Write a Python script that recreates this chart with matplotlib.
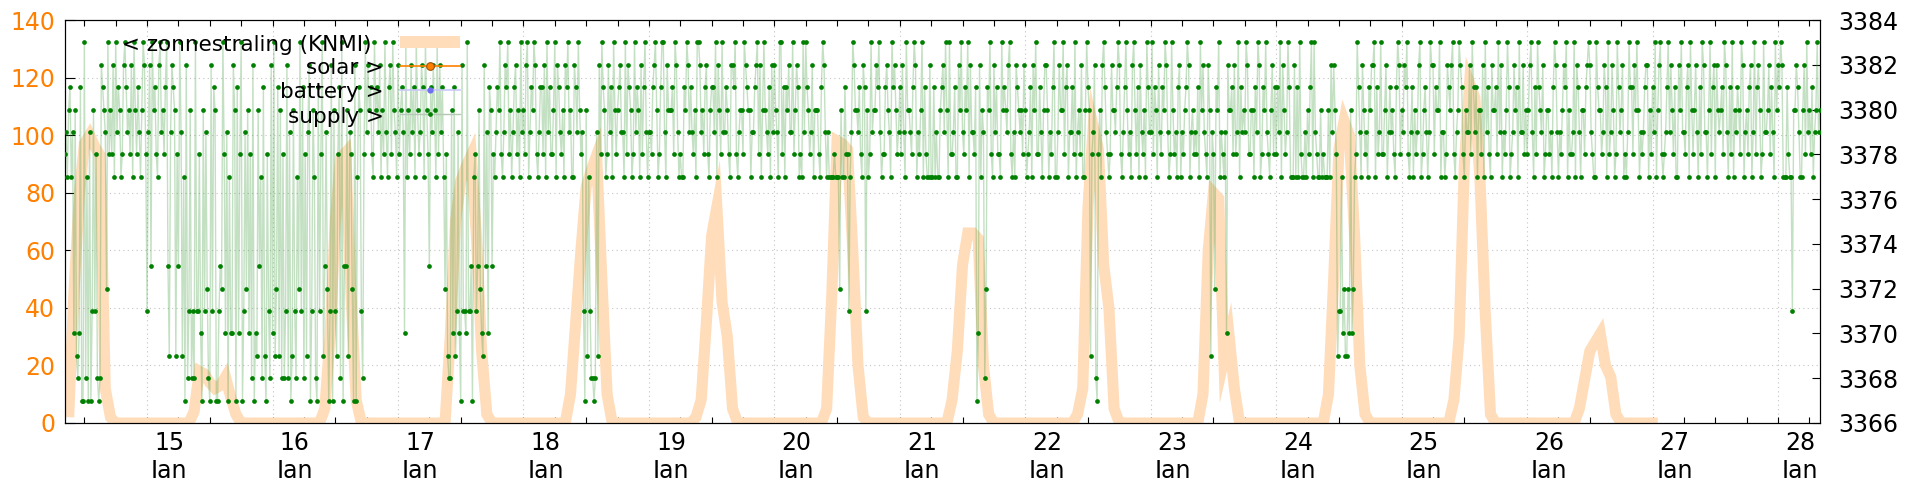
"""Zonnestraling (KNMI) vs meter readings, gnuplot-style two-axis chart."""

import os

os.environ.setdefault("MPLBACKEND", "Agg")

import matplotlib.pyplot as plt  # noqa: E402
import matplotlib.dates as mdates  # noqa: E402
import matplotlib.transforms as mtransforms  # noqa: E402
import pandas as pd  # noqa: E402

# KNMI hourly radiation (left axis), one row per day
KNMI_FIRST_HOUR = "2021-01-14 09:00"
knmi_radiation = [
    # 14 Jan, from 09:00
    2, 45, 78, 97, 100, 96, 93, 12, 2, 0, 0, 0, 0, 0, 0,
    # 15 Jan
    0, 0, 0, 0, 0, 0, 0, 0, 0, 4, 18, 17, 14, 12, 13, 16, 9, 3, 0, 0, 0, 0, 0, 0,
    # 16 Jan
    0, 0, 0, 0, 0, 0, 0, 0, 0, 0, 5, 30, 70, 92, 94, 45, 8, 0, 0, 0, 0, 0, 0, 0,
    # 17 Jan
    0, 0, 0, 0, 0, 0, 0, 0, 0, 0, 30, 70, 84, 89, 93, 65, 25, 3, 0, 0, 0, 0, 0, 0,
    # 18 Jan
    0, 0, 0, 0, 0, 0, 0, 0, 0, 10, 35, 60, 82, 88, 93, 50, 10, 0, 0, 0, 0, 0, 0, 0,
    # 19 Jan
    0, 0, 0, 0, 0, 0, 0, 0, 0, 2, 8, 35, 65, 75, 42, 30, 5, 0, 0, 0, 0, 0, 0, 0,
    # 20 Jan
    0, 0, 0, 0, 0, 0, 0, 0, 0, 0, 5, 45, 98, 97, 95, 60, 20, 2, 0, 0, 0, 0, 0, 0,
    # 21 Jan
    0, 0, 0, 0, 0, 0, 0, 0, 0, 0, 8, 25, 55, 66, 66, 64, 20, 3, 0, 0, 0, 0, 0, 0,
    # 22 Jan
    0, 0, 0, 0, 0, 0, 0, 0, 0, 0, 3, 12, 75, 103, 95, 55, 40, 5, 0, 0, 0, 0, 0, 0,
    # 23 Jan
    0, 0, 0, 0, 0, 0, 0, 0, 0, 0, 10, 60, 80, 78, 22, 30, 12, 0, 0, 0, 0, 0, 0, 0,
    # 24 Jan
    0, 0, 0, 0, 0, 0, 0, 0, 0, 0, 10, 50, 95, 105, 100, 65, 20, 3, 0, 0, 0, 0, 0, 0,
    # 25 Jan
    0, 0, 0, 0, 0, 0, 0, 0, 0, 0, 8, 30, 90, 118, 113, 84, 38, 3, 0, 0, 0, 0, 0, 0,
    # 26 Jan
    0, 0, 0, 0, 0, 0, 0, 0, 0, 0, 5, 15, 25, 28, 31, 20, 16, 3, 0, 0, 0, 0, 0, 0,
    # 27 Jan
    0, 0,
]

# supply readings every 15 minutes (right axis); one char per reading,
# index in SUPPLY_LEVELS = offset above 3366, one group of four per hour
SUPPLY_FIRST = "2021-01-14 08:15"
SUPPLY_BASE = 3366
SUPPLY_LEVELS = "0123456789abcdefgh"
supply_days = [
    # 14 Jan, from 08:15
    "cdb efbd 4e32 4f11 h2b1 d15e 5c21 2gfe d6hc ecgb hdfe bcgh fdec gbhe cfdb ehgc",
    "5dg7 hefc bghd ecfh 73dg fe3c 7hd3 b1g2 5e25 2h55 c41e 5d62 "
    "1g5f e115 76hc 4d1b 44ge 1f4c h15d 6e4c 2g14 3e7b 2f31 c52g",
    "4h36 f3e2 c25g 2d13 e52b 6h5f 2c3d g15e b21f 5ch3 7d61 5g1e "
    "53cf 2h17 7e3d c61g 1bfe 52ch dgef cbhe fdgb echd bfgc hedb",
    "gcef d4hb ecgd fbhe cdgf bhec 7fdg ebhc gdfb 6c32 2e4f 35d4 "
    "1g55 4h55 71bc 57e6 43g7 d4fe 7cbd fehc bdgf hceb dfgc ebhd",
    "ecgh bdfe hgcb dffc gbhd fcce hbgf dceb gfhd ebbg fdhe cd51 "
    "e3b5 2212 d3gc hfeb cgdf bhec efgd dbhc gfeb chdf ebgc fhdb",
    "ddcf gheb cfhh dbge eefc hgdb cbbf ehgd fdce bhhg decf gcbe "
    "ffdh bgec hddf ecbg gfhc bdee chgf eebd dfgh cgbe hedc fbgd",
    "gedb hhcf bfeg ddhc egfb cbhd hfec dgbe eecb fhgd bdbb bbcb "
    "bb6e bbfc c5bd hgee dfcb gf5e bchd eegf hdbc cfge dbhf gecd",
    "fcgd bhee dcfh gbdc ehbf cbbg bbfb dbbe fgdh ebhc cdfb bgeh "
    "dcfe hbgd dcf1 4gbe d26f ehcb gdfc cbhe fedg hcbd bgfe decg",
    "ebcd fbge hccf dbeg gebd cfhb bdge ehcf gbdd fchb decg bbeh "
    "fe3c dg21 cebg hfdc bcge edfh gcbd fhec dbgh ecfb gdce bhfd",
    "dhcf ebgd cfeh gdbc hecd bfgb dcef hgbd ecdc fbhe gdcb ge3d "
    "c6fe hbdc bd4g eefc gcdh bfde dhgc ceeb fdhg bcfe hdcb egcf",
    "cfdh bgec dhfb bbgb fbhc bbdb ecfh bhdc bbeb cbbb ebgd gec3 "
    "55b4 6336 4e46 bchf dbge cdbf eggh bfcd hcce gbdf decb fhgc",
    "edgf hcbd fbec dghb cefd bdhg gcfe ehbd dbcg fegh cbde hgfc "
    "bedd gchf dfbe ecgb hdfc bgee fchd gbdc ehfb cdge fbhd dgce",
    "cegh dbfc hfed gbce ecdb fhgd bdce gfhb eccd hbgf dbee cfgh "
    "gdcb bhfe ecdg fbhc dgeb chfd egbc bdhf fcge hebd cdfg gbec",
    "fdhb eghc bcdf hdge cfbb gehd dcfg bhec egdb fchg ddbe hcfg "
    "bged efch gdbf chbe dfec hgbd ecfg bdhc fgeb chdd egcf dbhe",
    # 28 Jan, until 08:00
    "gfhg bbbf cbb5 eegf dbbe gchd ecfb dehd e",
]

X_START, X_END = "2021-01-14 08:18", "2021-01-28 08:02"

ORANGE = "#ff8000"
PEACH = "#ffddbb"
GRID = "#c4c4c4"


def main() -> None:
    knmi_times = pd.date_range(KNMI_FIRST_HOUR, periods=len(knmi_radiation), freq="h")
    codes = "".join(supply_days).replace(" ", "")
    supply = [SUPPLY_BASE + SUPPLY_LEVELS.index(c) for c in codes]
    supply_times = pd.date_range(SUPPLY_FIRST, periods=len(supply), freq="15min")

    plt.rcParams["font.family"] = ["DejaVu Sans"]
    fig = plt.figure(figsize=(19.2, 4.8), dpi=100)
    ax = fig.add_axes([65 / 1920, 57 / 480, 1755 / 1920, 403 / 480])
    ax2 = ax.twinx()

    ax.plot(knmi_times, knmi_radiation, color=PEACH, lw=8,
            solid_joinstyle="miter", solid_capstyle="butt", zorder=2)
    ax.set_ylim(0, 140)
    ax.set_yticks(range(0, 141, 20))
    ax.set_xlim(pd.Timestamp(X_START), pd.Timestamp(X_END))

    ax2.plot(supply_times, supply, color="#3a9a3a", alpha=0.3, lw=1, zorder=2)
    ax2.plot(supply_times, supply, "o", color="#008000", ms=3.4, mew=0, zorder=3)
    ax2.set_ylim(3366, 3384)
    ax2.set_yticks(range(3366, 3385, 2))

    ax.xaxis.set_major_locator(mdates.DayLocator())
    ax.xaxis.set_minor_locator(mdates.HourLocator(byhour=[6, 12, 18]))
    ax.xaxis.set_major_formatter(
        plt.FuncFormatter(lambda x, pos: f"{mdates.num2date(x).day}\nIan"))

    ax.grid(True, which="major", color=GRID, ls=(0, (1, 3)), lw=0.8)
    ax.set_axisbelow(True)

    ax.tick_params(axis="x", which="both", direction="in", top=True,
                   length=4.3, width=0.8, labelsize=17, pad=6)
    ax.tick_params(axis="y", direction="in", length=7, width=0.8,
                   labelcolor=ORANGE, labelsize=17, pad=7)
    ax2.tick_params(axis="y", direction="in", length=6, width=0.8,
                    labelsize=17, pad=13)
    for a in (ax, ax2):
        for s in a.spines.values():
            s.set_linewidth(0.8)

    # gnuplot puts the date labels a little right of the midnight tick
    shift = mtransforms.ScaledTranslation(22 / 100, 0, fig.dpi_scale_trans)
    for lab in ax.get_xticklabels():
        lab.set_transform(lab.get_transform() + shift)

    # key in the top left, text right-justified before the sample
    tr = ax2.transAxes
    kw = dict(transform=tr, ha="right", va="center", fontsize=15.5, zorder=10)
    ax2.text(0.1749, 0.939, "< zonnestraling (KNMI)", **kw)
    ax2.text(0.1815, 0.881, "solar >", **kw)
    ax2.text(0.1815, 0.821, "battery >", **kw)
    ax2.text(0.1815, 0.760, "supply >", **kw)
    x0, x1, xm = 0.1909, 0.2251, 0.208
    ax2.plot([x0, x1], [0.945, 0.945], transform=tr, color=PEACH, lw=8.6,
             solid_capstyle="butt", clip_on=False, zorder=9)
    ax2.plot([x0, x1], [0.887, 0.887], transform=tr, color=ORANGE, lw=1.2,
             clip_on=False, zorder=9)
    ax2.plot([xm], [0.887], "o", transform=tr, ms=5.5, mfc=ORANGE,
             mec="#a05000", mew=0.8, clip_on=False, zorder=9)
    ax2.plot([x0, x1], [0.827, 0.827], transform=tr, color="#c8c8f8", lw=1.2,
             clip_on=False, zorder=9)
    ax2.plot([xm], [0.827], "o", transform=tr, ms=4.5, color="#7070ee",
             mew=0, clip_on=False, zorder=9)
    ax2.plot([x0, x1], [0.766, 0.766], transform=tr, color="#b4c8b4", lw=1,
             clip_on=False, zorder=9)
    ax2.plot([xm], [0.766], "o", transform=tr, ms=3.4, color="#008000",
             mew=0, clip_on=False, zorder=9)

    fig.savefig("out.png", dpi=100)
    plt.close(fig)


if __name__ == "__main__":
    main()
